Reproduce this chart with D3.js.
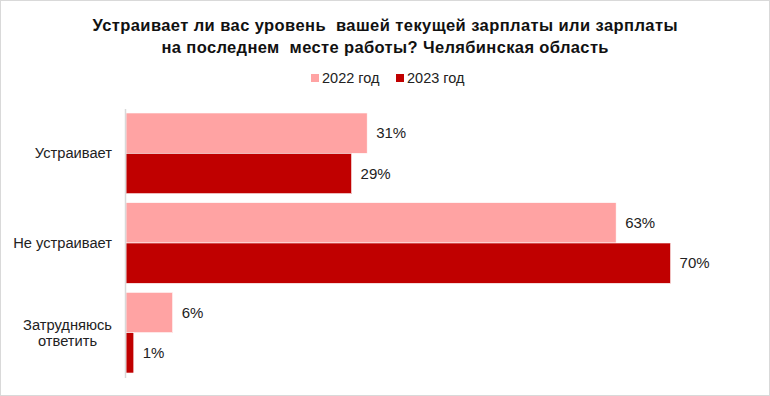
<!DOCTYPE html>
<html><head><meta charset="utf-8">
<script src="https://cdn.jsdelivr.net/npm/d3@7"></script>
<style>body{margin:0;background:#fff}svg{display:block}</style>
</head><body>
<svg id="c" width="770" height="396"></svg>
<script>
const categories = ["Устраивает", "Не устраивает", "Затрудняюсь ответить"];
const categoryLines = [["Устраивает"], ["Не устраивает"], ["Затрудняюсь", "ответить"]];
const seriesNames = ["2022 год", "2023 год"];
const values2022 = [31, 63, 6];
const values2023 = [29, 70, 1];
const seriesColors = ["#FFA3A3", "#C00000"];
const titleLines = ["Устраивает ли вас уровень  вашей текущей зарплаты или зарплаты", "на последнем  месте работы? Челябинская область"];

const svg = d3.select("#c");
svg.append("rect").attr("x",0.5).attr("y",0.5).attr("width",769).attr("height",395)
  .attr("fill","#fff").attr("stroke","#d9d9d9");

const titleFont = "'Liberation Sans Narrow','Arial Narrow','Liberation Sans',Arial,sans-serif";
const font = "'Liberation Sans',Arial,sans-serif";
const titleWidths = [585, 447];

svg.append("text").attr("x",385).attr("text-anchor","middle")
  .attr("font-family",titleFont).attr("font-weight","bold").attr("font-size",16.5).attr("fill","#111")
  .selectAll("tspan").data(titleLines).join("tspan")
  .attr("x",385).attr("y",(d,i)=>31+i*22).style("white-space","pre")
  .attr("textLength",(d,i)=>titleWidths[i]).attr("lengthAdjust","spacing").text(d=>d);

const x = d3.scaleLinear().domain([0,100]).range([126,904]);
const y = d3.scaleBand().domain(categories).range([108.5,377.5]).paddingInner(0.1).paddingOuter(0.05);
const ys = d3.scaleBand().domain(seriesNames).range([0,y.bandwidth()]);

const data = categories.map((c,i)=>({cat:c, vals:[values2022[i], values2023[i]]}));

const g = svg.append("g");
const groups = g.selectAll("g.grp").data(data).join("g").attr("class","grp")
  .attr("transform",d=>`translate(0,${y(d.cat)})`);
groups.selectAll("rect").data(d=>d.vals.map((v,j)=>({v,s:seriesNames[j],j}))).join("rect")
  .attr("x",x(0)).attr("y",d=>ys(d.s)).attr("width",d=>x(d.v)-x(0)).attr("height",ys.bandwidth())
  .attr("fill",d=>seriesColors[d.j]).attr("stroke","#fff").attr("stroke-width",0.6);
groups.selectAll("text").data(d=>d.vals.map((v,j)=>({v,s:seriesNames[j],j}))).join("text")
  .attr("x",d=>x(d.v)+9).attr("y",d=>ys(d.s)+ys.bandwidth()/2).attr("dy","0.35em")
  .attr("font-family",font).attr("font-size",15).attr("fill","#222").text(d=>d.v+"%");

// axis
const yAxis = d3.axisLeft(y).tickSize(0).tickFormat("");
const ax = svg.append("g").attr("transform","translate(125,0)").call(yAxis);
ax.select(".domain").attr("stroke","#d9d9d9").attr("stroke-width",1.5);
ax.selectAll(".tick").each(function(d,i){
  const t = d3.select(this).append("text").attr("text-anchor","middle")
    .attr("font-family",font).attr("font-size",14.7).attr("fill","#222");
  const lines = categoryLines[i];
  const spans = lines.map((l,k)=>
    t.append("tspan").attr("y",(k-(lines.length-1)/2)*16).attr("dy","0.35em").text(l));
  const maxW = d3.max(spans, s=>s.node().getComputedTextLength());
  spans.forEach(s=>s.attr("x",-13-maxW/2));
});

// legend
const leg = svg.append("g");
const legX = [311, 396];
seriesNames.forEach((s,i)=>{
  leg.append("rect").attr("x",legX[i]).attr("y",74).attr("width",8).attr("height",8).attr("fill",seriesColors[i]);
  leg.append("text").attr("x",legX[i]+11).attr("y",78).attr("dy","0.35em")
    .attr("font-family",font).attr("font-size",14.5).attr("fill","#222").text(s);
});
</script>
</body></html>
